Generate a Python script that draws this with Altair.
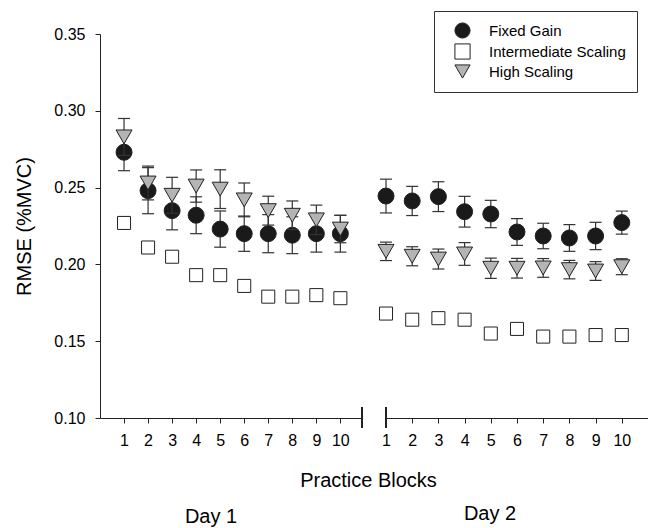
import altair as alt
import pandas as pd

blocks = [1, 2, 3, 4, 5, 6, 7, 8, 9, 10]
groups = ["Fixed Gain", "Intermediate Scaling", "High Scaling"]
days = ["Day 1", "Day 2"]

# Day 1
fg_d1 = [0.273, 0.248, 0.235, 0.232, 0.223, 0.220, 0.220, 0.219, 0.220, 0.220]
fg_d1_se = [0.012, 0.015, 0.0125, 0.012, 0.0118, 0.0115, 0.0124, 0.012, 0.012, 0.012]
is_d1 = [0.227, 0.211, 0.205, 0.193, 0.193, 0.186, 0.179, 0.179, 0.180, 0.178]
is_d1_se = [0.004, 0.003, 0.003, 0.003, 0.003, 0.003, 0.003, 0.003, 0.003, 0.003]
hs_d1 = [0.283, 0.253, 0.245, 0.251, 0.249, 0.242, 0.235, 0.232, 0.229, 0.223]
hs_d1_se = [0.012, 0.011, 0.0117, 0.0105, 0.0126, 0.011, 0.0094, 0.0093, 0.0096, 0.0089]

# Day 2
fg_d2 = [0.2445, 0.2413, 0.2441, 0.2343, 0.2328, 0.2211, 0.2185, 0.2172, 0.2185, 0.2272]
fg_d2_se = [0.011, 0.0095, 0.0097, 0.010, 0.0089, 0.0087, 0.0083, 0.0087, 0.0089, 0.0075]
is_d2 = [0.168, 0.164, 0.165, 0.164, 0.155, 0.158, 0.153, 0.153, 0.154, 0.154]
is_d2_se = [0.003, 0.003, 0.003, 0.003, 0.003, 0.003, 0.003, 0.003, 0.003, 0.003]
hs_d2 = [0.2085, 0.2053, 0.2035, 0.2068, 0.1975, 0.1975, 0.1977, 0.1966, 0.1957, 0.1985]
hs_d2_se = [0.006, 0.0062, 0.0065, 0.0074, 0.0066, 0.0064, 0.0061, 0.006, 0.0061, 0.0052]

y_ticks = [0.10, 0.15, 0.20, 0.25, 0.30, 0.35]

series = {
    ("Day 1", "Fixed Gain"): (fg_d1, fg_d1_se),
    ("Day 1", "Intermediate Scaling"): (is_d1, is_d1_se),
    ("Day 1", "High Scaling"): (hs_d1, hs_d1_se),
    ("Day 2", "Fixed Gain"): (fg_d2, fg_d2_se),
    ("Day 2", "Intermediate Scaling"): (is_d2, is_d2_se),
    ("Day 2", "High Scaling"): (hs_d2, hs_d2_se),
}
rows = []
for (day, grp), (vals, ses) in series.items():
    for b, v, s in zip(blocks, vals, ses):
        rows.append({"day": day, "block": b, "group": grp, "value": v,
                     "lo": v - s, "hi": v + s})
df = pd.DataFrame(rows)

FONT = "Liberation Sans"
AX = "#222222"
EB = "#333333"
W, H = 262, 384

yscale = alt.Scale(domain=[0.10, 0.35], nice=False, zero=False)
color_scale = alt.Scale(domain=groups, range=["#1a1a1a", "#ffffff", "#b4b4b4"])
shape_scale = alt.Scale(domain=groups, range=["circle", "square", "triangle-down"])
legend = alt.Legend(title=None, orient="none", legendX=334, legendY=-23,
                    padding=11, symbolOffset=9, labelOffset=18, rowPadding=0,
                    strokeColor="#333333", fillColor="white", symbolSize=230,
                    symbolStrokeColor="#222222", symbolStrokeWidth=1,
                    labelFontSize=15, labelColor="black", labelFont=FONT)
sizes = {"Fixed Gain": 256, "Intermediate Scaling": 170, "High Scaling": 256}
no_frame = alt.ViewBackground(stroke="transparent", strokeWidth=0, strokeOpacity=0)


def make_panel(day, xdomain, xaxis, yaxis, title, break_x):
    base = alt.Chart(df[df["day"] == day])
    xenc = alt.X("block:Q", scale=alt.Scale(domain=xdomain, nice=False, zero=False), axis=xaxis)

    def yenc(f):
        return alt.Y(f"{f}:Q", scale=yscale, axis=yaxis)

    layers = []
    for g in ["Intermediate Scaling", "Fixed Gain", "High Scaling"]:
        sub = base.transform_filter(alt.datum.group == g)
        layers.append(sub.mark_rule(color=EB, strokeWidth=1.2).encode(
            x=xenc, y=yenc("lo"), y2="hi:Q"))
        for f in ["lo", "hi"]:
            layers.append(sub.mark_tick(orient="horizontal", size=12, thickness=1.2,
                                        color=EB, opacity=1).encode(x=xenc, y=yenc(f)))
        layers.append(sub.mark_point(filled=True, size=sizes[g], stroke="#222222",
                                     strokeWidth=1, opacity=1).encode(
            x=xenc, y=yenc("value"),
            color=alt.Color("group:N", scale=color_scale, legend=legend),
            shape=alt.Shape("group:N", scale=shape_scale, legend=legend)))
    brk = base.mark_rule(color=AX, strokeWidth=1).encode(
        x=alt.value(break_x), y=alt.value(H - 11), y2=alt.value(H + 10))
    layers.append(brk)
    return alt.layer(*layers).properties(width=W, height=H, title=title, view=no_frame)


common_x = dict(values=blocks, format="d", grid=False, domainColor=AX, tickColor=AX,
                tickSize=5, labelFontSize=16, labelPadding=9, labelColor="black",
                labelFont=FONT, labelFlush=False, labelOverlap=False)

x1 = alt.Axis(title="Practice Blocks", titleX=268, titleY=62, titleAlign="center",
              titleBaseline="middle", titleFontSize=20, titleFontWeight="normal",
              titleColor="black", titleFont=FONT, **common_x)
x2 = alt.Axis(title=None, **common_x)
y1 = alt.Axis(values=y_ticks, format=".2f", grid=False, domainColor=AX, tickColor=AX,
              tickSize=5, labelFontSize=16, labelPadding=10, labelColor="black",
              labelFont=FONT, title="RMSE (%MVC)", titleFontSize=20,
              titleFontWeight="normal", titleColor="black", titleFont=FONT,
              titleX=-76, titleY=H / 2, titleBaseline="middle", titleAlign="center",
              titleAngle=270)

t1 = alt.TitleParams("Day 1", orient="bottom", fontSize=20, fontWeight="normal",
                     font=FONT, color="black", frame="group", anchor="middle",
                     dx=-20, offset=17)
t2 = alt.TitleParams("Day 2", orient="bottom", fontSize=20, fontWeight="normal",
                     font=FONT, color="black", frame="group", anchor="middle",
                     dx=-27, offset=56)

p1 = make_panel("Day 1", [0, 10.9], x1, y1, t1, W)
p2 = make_panel("Day 2", [1, 11], x2, None, t2, 0)

chart = alt.hconcat(p1, p2, spacing=24, bounds="flush").resolve_scale(
    x="independent"
).properties(
    padding={"left": 14, "top": 10, "right": 0, "bottom": 0}
).configure_view(stroke="transparent", strokeWidth=0, strokeOpacity=0).configure(
    font=FONT, background="white")

chart.save("out.html", embed_options={"renderer": "svg", "actions": False})
